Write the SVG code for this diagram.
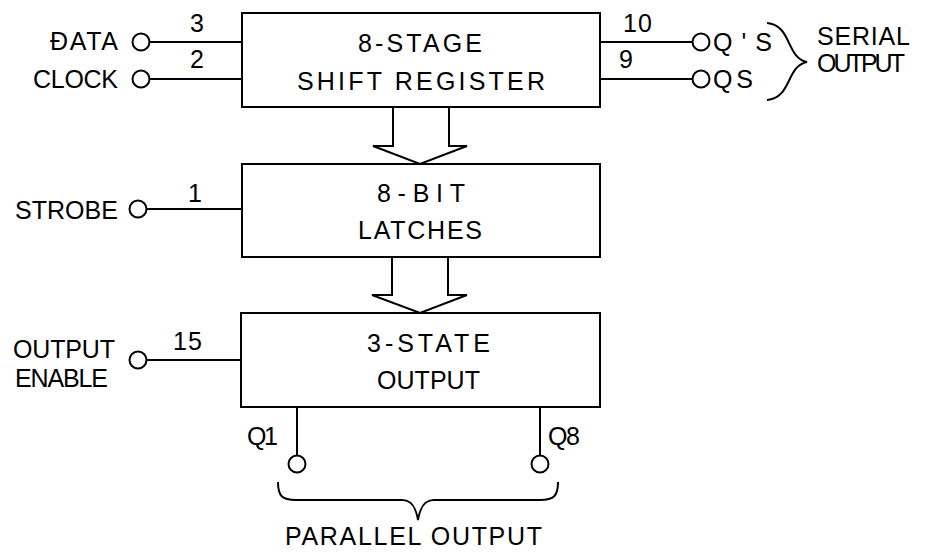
<svg xmlns="http://www.w3.org/2000/svg" width="940" height="553" viewBox="0 0 940 553">
<style>
  .box{fill:#fff;stroke:#000;stroke-width:2}
  .w{fill:none;stroke:#000;stroke-width:2}
  .pin{fill:#fff;stroke:#000;stroke-width:2}
  .arr{fill:#fff;stroke:#000;stroke-width:2;stroke-linejoin:miter}
  text{font-family:"Liberation Sans",Arial,sans-serif;font-size:25px;fill:#000}
</style>
<rect width="940" height="553" fill="#fff"/>
<g id="connectors">
  <line class="w" x1="149" y1="42" x2="242" y2="42"/>
  <line class="w" x1="149" y1="79" x2="242" y2="79"/>
  <line class="w" x1="600" y1="42" x2="693" y2="42"/>
  <line class="w" x1="600" y1="79" x2="693" y2="79"/>
  <line class="w" x1="146" y1="209" x2="242" y2="209"/>
  <line class="w" x1="146" y1="360" x2="241" y2="360"/>
  <line class="w" x1="297" y1="407" x2="297" y2="456"/>
  <line class="w" x1="540" y1="407" x2="540" y2="456"/>
  <path class="arr" d="M393,107 V146 H373 L420,164 L467,146 H449 V107"/>
  <path class="arr" d="M392,257 V295 H372 L420,313 L467,295 H448 V257"/>
</g>
<g id="shift-register">
  <rect class="box" x="242" y="13" width="358" height="94"/>
  <text x="358" y="52" textLength="124" lengthAdjust="spacing">8-STAGE</text>
  <text x="297" y="90" textLength="248" lengthAdjust="spacing">SHIFT REGISTER</text>
</g>
<g id="latches">
  <rect class="box" x="242" y="164" width="358" height="93"/>
  <text x="377" y="202" textLength="88" lengthAdjust="spacing">8-BIT</text>
  <text x="358" y="239" textLength="124" lengthAdjust="spacing">LATCHES</text>
</g>
<g id="three-state-output">
  <rect class="box" x="241" y="313" width="359" height="94"/>
  <text x="367" y="352" textLength="123" lengthAdjust="spacing">3-STATE</text>
  <text x="377" y="389" textLength="103" lengthAdjust="spacing">OUTPUT</text>
</g>
<g id="data-pin">
  <circle class="pin" cx="141" cy="42" r="8.5"/>
  <text x="50" y="50" textLength="68" lengthAdjust="spacing">ĐATA</text>
  <text x="190" y="32">3</text>
</g>
<g id="clock-pin">
  <circle class="pin" cx="141" cy="79" r="8.5"/>
  <text x="33" y="88" textLength="85" lengthAdjust="spacing">CLOCK</text>
  <text x="190" y="68">2</text>
</g>
<g id="strobe-pin">
  <circle class="pin" cx="138" cy="209" r="8.5"/>
  <text x="15" y="219" textLength="103" lengthAdjust="spacing">STROBE</text>
  <text x="188" y="202">1</text>
</g>
<g id="output-enable-pin">
  <circle class="pin" cx="138" cy="360" r="8.5"/>
  <text x="13" y="358" textLength="102" lengthAdjust="spacing">OUTPUT</text>
  <text x="15" y="387" textLength="93" lengthAdjust="spacing">ENABLE</text>
  <text x="173" y="350" textLength="29" lengthAdjust="spacing">15</text>
</g>
<g id="qs-prime-pin">
  <circle class="pin" cx="701" cy="42" r="8.5"/>
  <text x="713" y="51" textLength="59" lengthAdjust="spacing">Q'S</text>
  <text x="623" y="32" textLength="29" lengthAdjust="spacing">10</text>
</g>
<g id="qs-pin">
  <circle class="pin" cx="701" cy="79" r="8.5"/>
  <text x="713" y="88" textLength="40" lengthAdjust="spacing">QS</text>
  <text x="619" y="68">9</text>
</g>
<g id="serial-output">
  <path class="w" d="M767,23 C792,25 786,58 807,62 C786,66 792,98 767,100"/>
  <text x="817" y="45" textLength="93" lengthAdjust="spacing">SERIAL</text>
  <text x="817" y="72" textLength="88" lengthAdjust="spacing">OUTPUT</text>
</g>
<g id="q1-pin">
  <circle class="pin" cx="297" cy="464" r="8.5"/>
  <text x="247" y="445" textLength="31" lengthAdjust="spacing">Q1</text>
</g>
<g id="q8-pin">
  <circle class="pin" cx="540" cy="464" r="8.5"/>
  <text x="548" y="445" textLength="32" lengthAdjust="spacing">Q8</text>
</g>
<g id="parallel-output">
  <path class="w" d="M278,482 C278,496 282,500 296,500 H402 C412,500 416,508 418,520 C420,508 424,500 434,500 H540 C554,500 558,496 558,482"/>
  <text x="285" y="545" textLength="257" lengthAdjust="spacing">PARALLEL OUTPUT</text>
</g>
</svg>
